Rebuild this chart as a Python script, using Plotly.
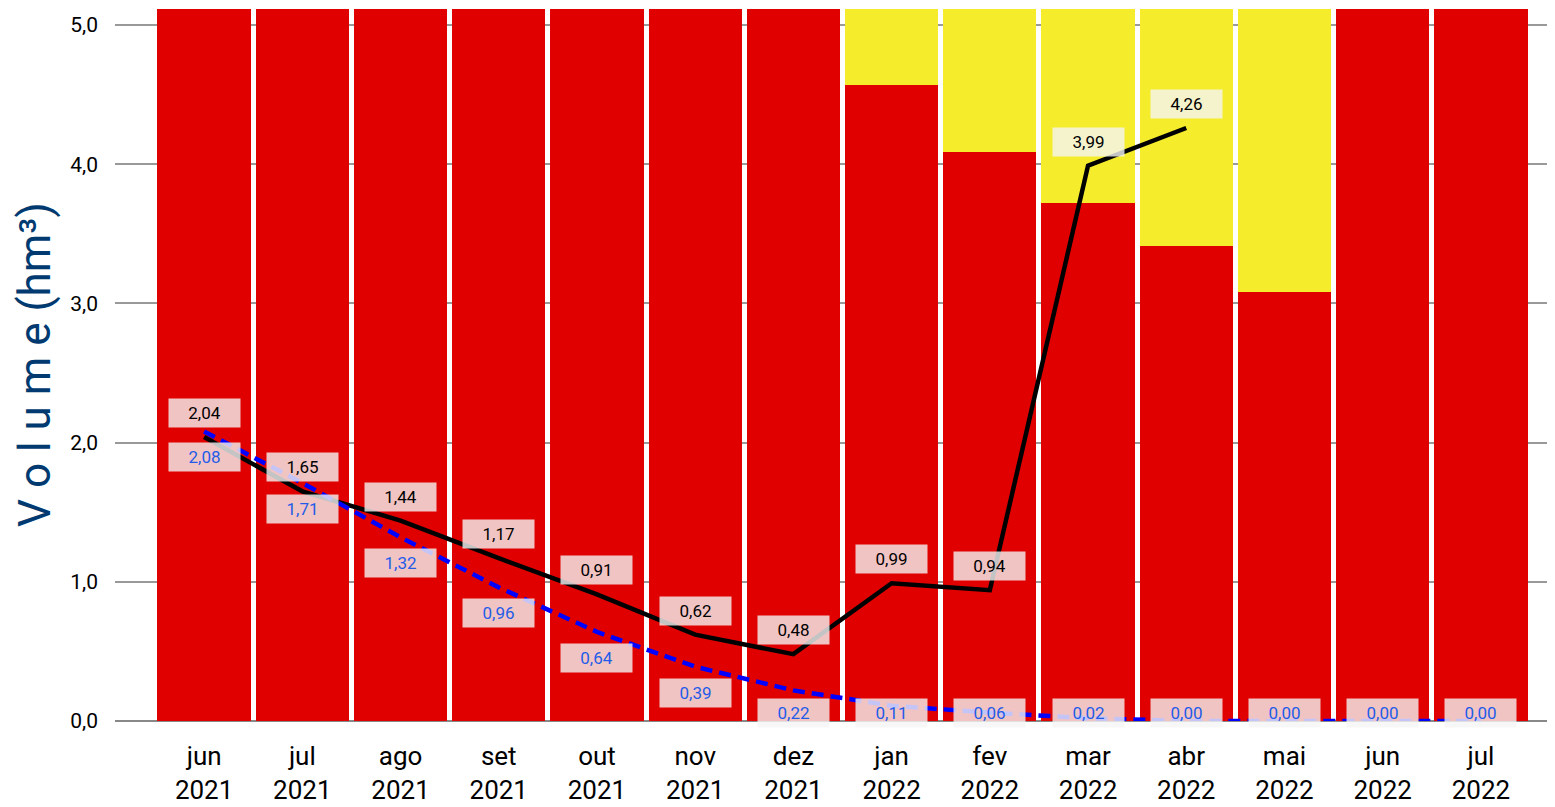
import plotly.graph_objects as go

months = ["jun", "jul", "ago", "set", "out", "nov", "dez", "jan", "fev", "mar", "abr", "mai", "jun", "jul"]
years = ["2021"] * 7 + ["2022"] * 7
categories = [f"{m}<br>{y}" for m, y in zip(months, years)]

red_vals = [5.5, 5.5, 5.5, 5.5, 5.5, 5.5, 5.5, 4.57, 4.09, 3.72, 3.41, 3.08, 5.5, 5.5]
yellow_vals = [0.0, 0.0, 0.0, 0.0, 0.0, 0.0, 0.0, 0.93, 1.41, 1.78, 2.09, 2.42, 0.0, 0.0]

black_vals = [2.04, 1.65, 1.44, 1.17, 0.91, 0.62, 0.48, 0.99, 0.94, 3.99, 4.26]
blue_vals = [2.08, 1.71, 1.32, 0.96, 0.64, 0.39, 0.22, 0.11, 0.06, 0.02, 0.00, 0.00, 0.00, 0.00]

y_tick_vals = [0, 1, 2, 3, 4, 5]

FONT = "Roboto"
Y_MAX = 5.115
BODY = 8  # default page body margin
PLOT_TOP, PLOT_BOTTOM, PLOT_LEFT = 9, 721, 115

fig = go.Figure()
fig.add_trace(go.Bar(x=categories, y=red_vals, marker=dict(color="#e10000", line=dict(width=0)),
                     hoverinfo="skip", showlegend=False))
fig.add_trace(go.Bar(x=categories, y=yellow_vals, marker=dict(color="#f5ec2c", line=dict(width=0)),
                     hoverinfo="skip", showlegend=False))
fig.add_trace(go.Scatter(x=categories[:len(black_vals)], y=black_vals, mode="lines",
                         line=dict(color="black", width=4.5), showlegend=False))
fig.add_trace(go.Scatter(x=categories, y=blue_vals, mode="lines",
                         line=dict(color="#0000ff", width=4.5, dash="12px,7px"), showlegend=False))

px_per_unit = (PLOT_BOTTOM - PLOT_TOP) / Y_MAX
box_bg = "rgba(245,245,245,0.80)"

for i, v in enumerate(black_vals):
    fig.add_annotation(x=categories[i], y=v, text=f"{v:.2f}".replace(".", ","),
                       yshift=24, showarrow=False,
                       font=dict(family=FONT, size=17, color="black"),
                       bgcolor=box_bg, width=65, height=22, borderpad=3)

for i, v in enumerate(blue_vals):
    shift = -26
    if v * px_per_unit + shift < 8:
        shift = 8 - v * px_per_unit
    fig.add_annotation(x=categories[i], y=v, text=f"{v:.2f}".replace(".", ","),
                       yshift=shift, showarrow=False,
                       font=dict(family=FONT, size=17, color="#1f5ce8"),
                       bgcolor=box_bg, width=65, height=22, borderpad=3)

fig.add_annotation(xref="paper", yref="paper", x=-(PLOT_LEFT - 35) / (1555 - PLOT_LEFT), y=0.5,
                   text="V o l u m e (hm³)", textangle=-90, showarrow=False,
                   xanchor="center", yanchor="middle",
                   font=dict(family=FONT, size=44, color="#003a70"))

fig.update_layout(
    width=1555 - BODY, height=807 - BODY,
    margin=dict(l=PLOT_LEFT - BODY, r=0, t=PLOT_TOP - BODY, b=807 - PLOT_BOTTOM, autoexpand=False),
    barmode="stack", bargap=0.05,
    plot_bgcolor="white", paper_bgcolor="white",
    separators=",.",
    font=dict(family=FONT),
    xaxis=dict(range=[-0.5 - 40 / 98.2, 13.5 + 25 / 98.2], showgrid=False, zeroline=False,
               tickfont=dict(family=FONT, size=26, color="black"), ticks="",
               showline=False, ticklabelstandoff=17, automargin=False),
    yaxis=dict(range=[0, Y_MAX], tickvals=y_tick_vals, tickformat=".1f",
               showgrid=True, gridcolor="#999999", gridwidth=1.5,
               zeroline=True, zerolinecolor="#888888", zerolinewidth=2,
               tickfont=dict(family=FONT, size=21, color="black"), ticks="",
               ticklabelstandoff=16, automargin=False),
)

fig.write_html("out.html")
